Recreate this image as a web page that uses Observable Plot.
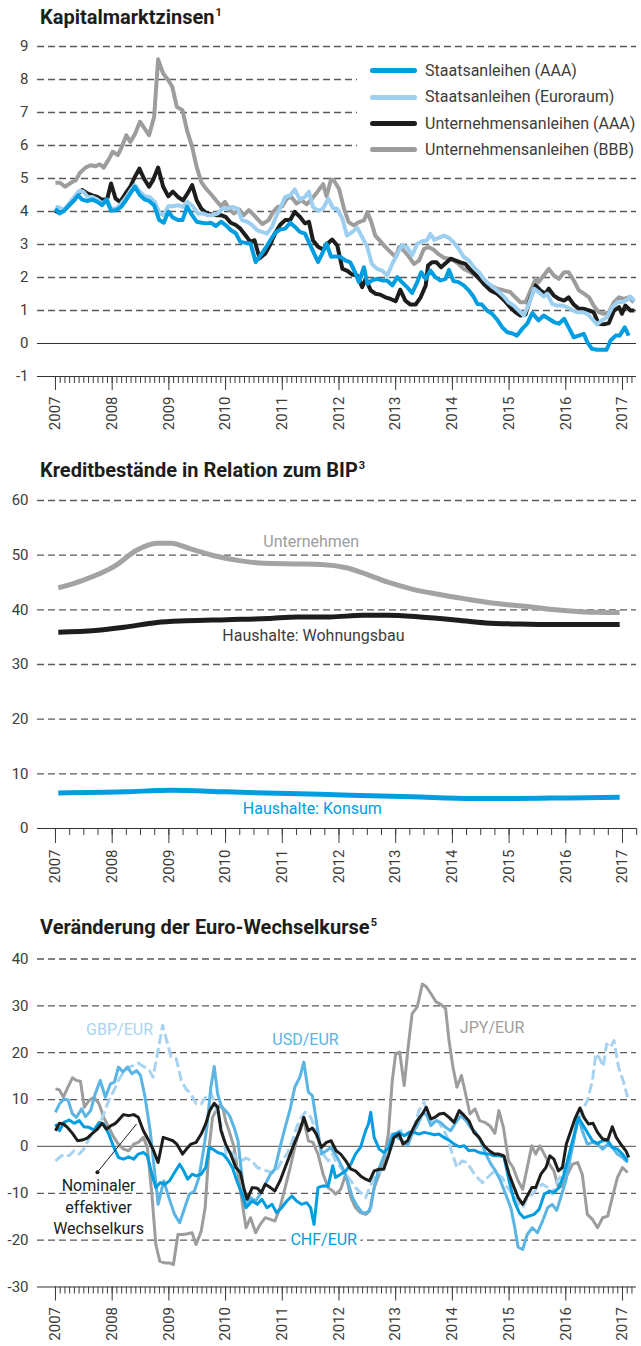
<!DOCTYPE html>
<html><head><meta charset="utf-8">
<script src="https://cdn.jsdelivr.net/npm/d3@7"></script>
<script src="https://cdn.jsdelivr.net/npm/@observablehq/plot@0.6"></script>
<style>
body{margin:0;background:#fff;}
#root{position:relative;width:641px;height:1346px;font-family:Roboto,sans-serif;color:#3c3c3b;overflow:hidden;}
.title{position:absolute;left:40px;font-weight:700;font-size:20px;line-height:1;color:#1d1d1b;white-space:nowrap;}
.title sup{font-size:11px;line-height:0;vertical-align:8px;margin-left:1px;}
.chart{position:absolute;left:0;}
</style></head>
<body>
<div id="root">
  <div class="title" style="top:7px">Kapitalmarktzinsen<sup>1</sup></div>
  <div class="chart" id="c1" style="top:36px"></div>
  <div id="legend" style="position:absolute;left:357px;top:56px;width:284px;height:112px;background:#fff"></div>
  <div class="title" style="top:460px">Kreditbestände in Relation zum BIP<sup>3</sup></div>
  <div class="chart" id="c2" style="top:490px"></div>
  <div class="title" style="top:917px">Veränderung der Euro-Wechselkurse<sup>5</sup></div>
  <div class="chart" id="c3" style="top:948px"></div>
</div>
<script>
// ---------- shared ----------
const years = [2007,2008,2009,2010,2011,2012,2013,2014,2015,2016,2017];
const xDomain = [2006.683, 2017.247];

// ---------- Chart 1: Kapitalmarktzinsen ----------
const yTicks1 = [-1,0,1,2,3,4,5,6,7,8,9];
const legendNames = ["Staatsanleihen (AAA)","Staatsanleihen (Euroraum)","Unternehmensanleihen (AAA)","Unternehmensanleihen (BBB)"];
const staatsAAA = [[2007.00,4.09],[2007.07,3.94],[2007.15,4.02],[2007.24,4.19],[2007.33,4.34],[2007.40,4.49],[2007.47,4.36],[2007.56,4.32],[2007.65,4.36],[2007.74,4.29],[2007.82,4.19],[2007.90,4.36],[2007.98,4.02],[2008.07,4.04],[2008.16,4.14],[2008.25,4.36],[2008.33,4.57],[2008.40,4.75],[2008.49,4.49],[2008.58,4.36],[2008.65,4.32],[2008.74,4.19],[2008.83,3.74],[2008.91,3.66],[2008.99,3.99],[2009.07,3.82],[2009.16,3.74],[2009.24,3.74],[2009.32,4.14],[2009.41,3.89],[2009.49,3.69],[2009.58,3.66],[2009.67,3.64],[2009.74,3.66],[2009.83,3.56],[2009.92,3.69],[2010.00,3.59],[2010.09,3.44],[2010.18,3.34],[2010.26,3.08],[2010.35,3.05],[2010.44,3.03],[2010.53,2.47],[2010.62,2.68],[2010.70,2.88],[2010.79,3.13],[2010.87,3.35],[2010.96,3.45],[2011.05,3.48],[2011.14,3.66],[2011.22,3.54],[2011.31,3.38],[2011.40,3.33],[2011.48,3.03],[2011.56,2.73],[2011.63,2.47],[2011.72,2.78],[2011.78,3.03],[2011.86,2.63],[2011.94,2.64],[2012.03,2.62],[2012.11,2.52],[2012.20,2.46],[2012.29,2.13],[2012.35,1.86],[2012.44,2.31],[2012.50,1.81],[2012.58,1.91],[2012.67,1.96],[2012.76,1.91],[2012.85,1.91],[2012.94,1.76],[2013.03,2.01],[2013.11,1.86],[2013.20,1.71],[2013.29,1.53],[2013.38,1.86],[2013.45,2.16],[2013.53,1.96],[2013.61,2.21],[2013.70,2.01],[2013.79,1.91],[2013.88,1.96],[2013.94,2.23],[2014.02,1.89],[2014.11,1.86],[2014.20,1.76],[2014.29,1.61],[2014.38,1.40],[2014.44,1.20],[2014.52,1.18],[2014.61,1.00],[2014.70,0.90],[2014.79,0.72],[2014.88,0.49],[2014.97,0.34],[2015.05,0.31],[2015.14,0.24],[2015.23,0.44],[2015.32,0.60],[2015.41,0.92],[2015.47,0.80],[2015.52,0.70],[2015.61,0.85],[2015.70,0.75],[2015.79,0.65],[2015.88,0.60],[2015.97,0.75],[2016.05,0.49],[2016.14,0.19],[2016.23,0.24],[2016.32,0.29],[2016.38,0.04],[2016.46,-0.16],[2016.55,-0.19],[2016.64,-0.19],[2016.72,-0.19],[2016.79,0.09],[2016.88,0.24],[2016.95,0.24],[2017.04,0.49],[2017.11,0.24]];
const staatsEuro = [[2007.00,4.14],[2007.07,4.12],[2007.15,4.04],[2007.24,4.24],[2007.33,4.44],[2007.42,4.63],[2007.49,4.60],[2007.57,4.44],[2007.65,4.44],[2007.74,4.36],[2007.82,4.24],[2007.91,4.36],[2007.98,4.09],[2008.07,4.09],[2008.16,4.24],[2008.25,4.44],[2008.33,4.65],[2008.40,4.80],[2008.49,4.60],[2008.58,4.46],[2008.66,4.44],[2008.75,4.29],[2008.84,3.94],[2008.91,3.89],[2008.99,4.16],[2009.07,4.16],[2009.16,4.19],[2009.25,4.14],[2009.33,4.29],[2009.42,4.16],[2009.51,3.94],[2009.60,3.94],[2009.68,3.89],[2009.77,3.89],[2009.86,3.94],[2009.95,4.09],[2010.03,4.09],[2010.12,4.14],[2010.21,4.09],[2010.29,3.74],[2010.38,3.69],[2010.47,3.59],[2010.56,3.43],[2010.64,3.38],[2010.73,3.33],[2010.82,3.54],[2010.90,3.89],[2010.96,4.09],[2011.05,4.44],[2011.14,4.49],[2011.22,4.67],[2011.31,4.36],[2011.40,4.44],[2011.47,4.60],[2011.54,4.14],[2011.63,4.02],[2011.72,4.09],[2011.81,4.39],[2011.90,4.09],[2011.97,4.08],[2012.06,3.78],[2012.14,3.27],[2012.23,3.37],[2012.32,3.51],[2012.41,3.22],[2012.50,2.92],[2012.58,2.41],[2012.67,2.26],[2012.76,2.21],[2012.85,2.06],[2012.94,2.41],[2013.03,2.72],[2013.11,2.97],[2013.20,2.92],[2013.29,2.67],[2013.38,3.02],[2013.47,3.10],[2013.55,3.12],[2013.61,3.32],[2013.68,3.14],[2013.76,3.20],[2013.85,3.27],[2013.94,3.20],[2014.02,3.07],[2014.11,2.87],[2014.20,2.62],[2014.29,2.52],[2014.38,2.31],[2014.47,2.16],[2014.55,1.96],[2014.64,1.81],[2014.73,1.69],[2014.82,1.56],[2014.91,1.42],[2014.99,1.25],[2015.08,1.15],[2015.17,1.00],[2015.26,0.85],[2015.35,1.20],[2015.44,1.66],[2015.52,1.56],[2015.61,1.42],[2015.67,1.51],[2015.76,1.20],[2015.85,1.15],[2015.94,1.15],[2016.02,1.10],[2016.11,1.02],[2016.20,0.95],[2016.29,0.95],[2016.38,0.90],[2016.46,0.75],[2016.55,0.58],[2016.64,0.70],[2016.73,0.80],[2016.82,1.10],[2016.91,1.25],[2016.99,1.25],[2017.08,1.32],[2017.14,1.42],[2017.21,1.30]];
const unternAAA = [[2007.00,4.02],[2007.07,3.96],[2007.15,4.04],[2007.24,4.19],[2007.33,4.36],[2007.40,4.55],[2007.47,4.65],[2007.56,4.55],[2007.65,4.49],[2007.74,4.44],[2007.82,4.36],[2007.91,4.36],[2007.98,4.85],[2008.06,4.39],[2008.14,4.29],[2008.23,4.53],[2008.32,4.75],[2008.40,5.05],[2008.48,5.30],[2008.56,5.00],[2008.65,4.75],[2008.72,4.95],[2008.81,5.33],[2008.90,4.75],[2008.99,4.46],[2009.07,4.60],[2009.16,4.44],[2009.25,4.34],[2009.33,4.55],[2009.41,4.80],[2009.49,4.34],[2009.57,4.09],[2009.65,3.96],[2009.74,3.92],[2009.83,3.89],[2009.92,3.89],[2010.00,3.84],[2010.09,3.66],[2010.18,3.59],[2010.26,3.48],[2010.35,3.28],[2010.44,3.08],[2010.51,3.13],[2010.60,2.58],[2010.70,2.73],[2010.79,3.01],[2010.87,3.33],[2010.96,3.59],[2011.05,3.74],[2011.14,3.74],[2011.22,3.99],[2011.31,3.84],[2011.40,3.64],[2011.47,3.69],[2011.54,3.13],[2011.63,2.93],[2011.72,2.85],[2011.80,3.03],[2011.88,3.15],[2011.97,2.97],[2012.06,2.26],[2012.14,2.21],[2012.23,2.09],[2012.32,2.06],[2012.41,1.71],[2012.47,1.96],[2012.56,1.61],[2012.64,1.51],[2012.73,1.48],[2012.82,1.40],[2012.91,1.35],[2013.00,1.28],[2013.08,1.63],[2013.17,1.30],[2013.26,1.18],[2013.35,1.18],[2013.44,1.40],[2013.53,1.76],[2013.57,2.36],[2013.64,2.46],[2013.72,2.46],[2013.80,2.31],[2013.88,2.43],[2013.97,2.57],[2014.05,2.52],[2014.14,2.46],[2014.23,2.41],[2014.32,2.23],[2014.44,2.03],[2014.55,1.81],[2014.67,1.61],[2014.79,1.51],[2014.91,1.32],[2015.02,1.10],[2015.11,0.95],[2015.20,0.85],[2015.29,0.88],[2015.38,1.40],[2015.47,1.76],[2015.55,1.61],[2015.64,1.51],[2015.70,1.66],[2015.79,1.45],[2015.88,1.35],[2015.97,1.30],[2016.05,1.40],[2016.14,1.18],[2016.23,1.05],[2016.32,1.05],[2016.41,1.00],[2016.49,0.95],[2016.58,0.60],[2016.67,0.58],[2016.76,0.62],[2016.85,1.00],[2016.94,1.10],[2016.99,0.90],[2017.05,1.15],[2017.14,1.00],[2017.21,1.00]];
const unternBBB = [[2007.00,4.87],[2007.08,4.87],[2007.17,4.75],[2007.27,4.87],[2007.36,4.95],[2007.43,5.17],[2007.53,5.33],[2007.62,5.40],[2007.71,5.37],[2007.78,5.43],[2007.85,5.33],[2007.94,5.58],[2008.01,5.81],[2008.10,5.71],[2008.17,5.96],[2008.25,6.31],[2008.32,6.11],[2008.40,6.34],[2008.49,6.72],[2008.57,6.52],[2008.65,6.31],[2008.74,6.87],[2008.81,8.61],[2008.90,8.18],[2008.99,7.98],[2009.06,7.78],[2009.14,7.17],[2009.24,7.07],[2009.32,6.46],[2009.41,5.96],[2009.49,5.35],[2009.57,4.90],[2009.65,4.70],[2009.74,4.53],[2009.83,4.34],[2009.92,4.16],[2009.99,4.29],[2010.07,4.06],[2010.15,3.94],[2010.24,4.06],[2010.32,3.89],[2010.41,4.04],[2010.50,3.89],[2010.58,3.74],[2010.65,3.62],[2010.76,3.74],[2010.84,3.99],[2010.92,4.14],[2011.00,4.16],[2011.08,4.39],[2011.16,4.44],[2011.25,4.24],[2011.34,4.34],[2011.43,4.22],[2011.51,4.36],[2011.60,4.55],[2011.72,4.83],[2011.78,4.46],[2011.86,4.97],[2011.91,4.94],[2012.00,4.69],[2012.09,4.08],[2012.17,3.68],[2012.26,3.58],[2012.35,3.68],[2012.44,3.73],[2012.50,3.98],[2012.57,3.68],[2012.64,3.27],[2012.73,3.10],[2012.82,2.92],[2012.91,2.77],[2013.00,2.62],[2013.06,2.92],[2013.14,2.82],[2013.23,2.64],[2013.32,2.41],[2013.41,2.51],[2013.50,2.87],[2013.58,2.92],[2013.67,2.84],[2013.76,2.70],[2013.85,2.60],[2013.94,2.57],[2014.02,2.52],[2014.11,2.41],[2014.20,2.26],[2014.32,2.16],[2014.44,2.01],[2014.55,1.86],[2014.67,1.76],[2014.79,1.66],[2014.91,1.61],[2015.02,1.56],[2015.11,1.40],[2015.20,1.25],[2015.29,1.25],[2015.38,1.61],[2015.47,1.96],[2015.52,1.86],[2015.61,2.06],[2015.70,2.26],[2015.79,2.06],[2015.88,1.96],[2015.97,2.16],[2016.05,2.16],[2016.14,1.91],[2016.23,1.61],[2016.32,1.51],[2016.41,1.40],[2016.49,1.15],[2016.58,0.95],[2016.67,0.90],[2016.76,0.95],[2016.85,1.25],[2016.94,1.40],[2017.02,1.35],[2017.11,1.40],[2017.20,1.25]];

// ---------- Chart 2: Kreditbestände ----------
const yTicks2 = [0,10,20,30,40,50,60];
const unternehmen = [[2007.05,44.0],[2007.48,45.4],[2008.06,48.1],[2008.43,50.9],[2008.79,52.2],[2009.04,52.2],[2009.37,51.2],[2009.80,49.9],[2010.24,49.0],[2010.68,48.5],[2011.26,48.4],[2011.69,48.3],[2012.13,47.7],[2012.49,46.5],[2012.85,45.1],[2013.29,43.8],[2013.72,42.9],[2014.23,42.0],[2014.74,41.2],[2015.32,40.6],[2015.83,40.0],[2016.34,39.6],[2016.95,39.5]];
const wohnungsbau = [[2007.05,35.9],[2007.70,36.2],[2008.21,36.8],[2008.79,37.7],[2009.30,38.0],[2010.02,38.2],[2010.75,38.4],[2011.26,38.7],[2011.84,38.7],[2012.42,39.0],[2012.85,39.0],[2013.43,38.7],[2014.01,38.2],[2014.59,37.6],[2015.17,37.4],[2015.83,37.3],[2016.95,37.3]];
const konsum = [[2007.05,6.5],[2008.21,6.7],[2009.04,7.0],[2010.02,6.7],[2011.11,6.4],[2012.20,6.1],[2013.29,5.8],[2014.38,5.5],[2015.10,5.5],[2016.05,5.6],[2016.95,5.7]];
const labels2 = [
  {x: 2011.51, y: 52.4, text: "Unternehmen", color: "#9d9d9c"},
  {x: 2011.55, y: 35.3, text: "Haushalte: Wohnungsbau", color: "#3c3c3b"},
  {x: 2011.53, y: 3.5, text: "Haushalte: Konsum", color: "#009ee0"}
];

// ---------- Chart 3: Euro-Wechselkurse ----------
const yTicks3 = [-30,-20,-10,0,10,20,30,40];
const neer = [[2007.00,3.36],[2007.07,4.93],[2007.14,4.79],[2007.21,4.07],[2007.30,2.79],[2007.39,1.21],[2007.47,1.36],[2007.56,1.79],[2007.65,2.79],[2007.74,3.71],[2007.82,4.93],[2007.90,3.71],[2007.98,4.43],[2008.06,4.93],[2008.13,5.86],[2008.20,6.79],[2008.29,6.57],[2008.38,6.79],[2008.46,6.21],[2008.55,3.36],[2008.64,1.36],[2008.72,-0.57],[2008.81,-3.43],[2008.90,1.93],[2008.99,1.57],[2009.07,1.21],[2009.14,0.50],[2009.24,-1.64],[2009.31,-0.57],[2009.39,0.50],[2009.48,0.86],[2009.57,2.64],[2009.65,4.79],[2009.72,7.64],[2009.80,9.21],[2009.86,8.36],[2009.92,3.36],[2010.00,0.50],[2010.09,-1.64],[2010.18,-4.50],[2010.26,-5.57],[2010.32,-8.79],[2010.38,-11.29],[2010.47,-8.79],[2010.56,-8.93],[2010.63,-9.86],[2010.70,-8.07],[2010.79,-8.79],[2010.87,-9.50],[2010.96,-7.36],[2011.05,-4.50],[2011.14,-1.64],[2011.22,0.86],[2011.31,3.36],[2011.38,6.21],[2011.46,3.36],[2011.53,3.93],[2011.60,2.64],[2011.69,-0.21],[2011.78,0.86],[2011.86,1.21],[2011.95,-0.93],[2012.03,-1.64],[2012.12,-3.07],[2012.21,-4.86],[2012.29,-5.21],[2012.38,-6.29],[2012.47,-7.00],[2012.54,-7.36],[2012.62,-5.21],[2012.71,-4.86],[2012.79,-4.86],[2012.88,-1.64],[2012.97,1.93],[2013.06,2.64],[2013.13,0.50],[2013.21,1.21],[2013.29,3.36],[2013.38,5.50],[2013.47,6.93],[2013.54,8.36],[2013.62,5.86],[2013.69,6.21],[2013.77,6.93],[2013.85,7.07],[2013.94,6.21],[2014.03,5.14],[2014.12,7.64],[2014.21,6.57],[2014.29,5.50],[2014.38,3.00],[2014.47,1.93],[2014.56,0.14],[2014.65,-0.93],[2014.74,-1.64],[2014.82,-1.64],[2014.91,-2.00],[2015.00,-5.93],[2015.09,-8.79],[2015.16,-10.93],[2015.24,-12.36],[2015.32,-10.57],[2015.40,-8.79],[2015.47,-8.79],[2015.56,-5.93],[2015.65,-4.50],[2015.72,-2.00],[2015.79,-2.71],[2015.87,-5.21],[2015.94,-4.50],[2016.01,0.50],[2016.09,3.36],[2016.16,5.86],[2016.25,8.21],[2016.32,6.21],[2016.40,4.79],[2016.48,4.93],[2016.56,3.00],[2016.65,1.57],[2016.74,1.36],[2016.82,4.21],[2016.89,1.93],[2016.97,0.50],[2017.06,-0.93],[2017.11,-2.36]];
const usd = [[2007.00,7.29],[2007.07,9.07],[2007.15,10.14],[2007.22,9.93],[2007.30,6.93],[2007.37,6.21],[2007.46,8.00],[2007.53,6.36],[2007.62,7.64],[2007.70,11.21],[2007.79,14.07],[2007.88,10.50],[2007.97,13.36],[2008.04,13.71],[2008.11,16.93],[2008.19,15.86],[2008.27,16.93],[2008.35,15.50],[2008.43,16.21],[2008.50,15.14],[2008.58,10.50],[2008.67,3.36],[2008.74,-4.50],[2008.81,-12.36],[2008.91,-7.36],[2009.00,-10.93],[2009.10,-14.50],[2009.19,-16.29],[2009.28,-13.07],[2009.36,-10.21],[2009.45,-9.50],[2009.53,-6.64],[2009.60,-1.64],[2009.67,4.07],[2009.74,12.64],[2009.80,17.07],[2009.86,11.21],[2009.93,8.36],[2010.00,7.64],[2010.07,6.57],[2010.15,4.07],[2010.22,1.21],[2010.29,-6.64],[2010.36,-13.07],[2010.44,-10.93],[2010.53,-11.64],[2010.61,-10.21],[2010.70,-8.07],[2010.79,-5.93],[2010.87,-4.86],[2010.96,-0.21],[2011.05,4.07],[2011.14,8.00],[2011.22,12.64],[2011.31,14.79],[2011.38,18.00],[2011.46,11.57],[2011.53,10.86],[2011.60,5.50],[2011.69,-1.64],[2011.78,-0.93],[2011.86,-0.21],[2011.97,-2.36],[2012.06,-4.50],[2012.15,-7.36],[2012.24,-10.93],[2012.32,-12.71],[2012.41,-14.14],[2012.50,-14.14],[2012.56,-13.07],[2012.62,-8.79],[2012.69,-5.21],[2012.76,-3.07],[2012.85,-0.21],[2012.94,2.64],[2013.03,1.93],[2013.12,1.21],[2013.21,0.14],[2013.29,2.64],[2013.38,4.43],[2013.47,6.93],[2013.54,6.93],[2013.62,4.43],[2013.71,5.50],[2013.79,5.14],[2013.88,4.07],[2013.97,3.36],[2014.06,5.14],[2014.15,6.57],[2014.24,5.50],[2014.32,4.07],[2014.41,3.00],[2014.50,1.21],[2014.59,-1.64],[2014.68,-3.79],[2014.76,-5.21],[2014.85,-7.36],[2014.94,-10.21],[2015.03,-13.07],[2015.09,-16.64],[2015.16,-21.50],[2015.24,-22.00],[2015.32,-18.79],[2015.41,-17.36],[2015.50,-18.43],[2015.59,-15.93],[2015.68,-13.07],[2015.76,-12.36],[2015.84,-13.64],[2015.91,-10.93],[2016.00,-7.36],[2016.07,-3.07],[2016.15,1.93],[2016.22,6.21],[2016.29,3.36],[2016.38,0.50],[2016.47,0.86],[2016.56,0.50],[2016.65,-0.57],[2016.74,0.50],[2016.82,-0.21],[2016.91,-1.64],[2017.00,-2.36],[2017.09,-3.43]];
const chf = [[2007.00,4.79],[2007.07,3.36],[2007.15,5.14],[2007.24,5.64],[2007.33,4.93],[2007.42,5.50],[2007.50,4.21],[2007.59,4.07],[2007.68,3.50],[2007.77,5.14],[2007.85,4.79],[2007.94,2.64],[2008.03,-0.21],[2008.11,-2.36],[2008.20,-2.71],[2008.29,-2.21],[2008.38,-2.71],[2008.46,-1.64],[2008.55,-1.29],[2008.62,-2.00],[2008.70,-5.93],[2008.77,-8.79],[2008.85,-7.71],[2008.93,-8.07],[2009.01,-7.36],[2009.10,-5.57],[2009.19,-3.79],[2009.26,-5.21],[2009.33,-7.00],[2009.41,-5.93],[2009.48,-6.29],[2009.57,-5.93],[2009.65,-4.50],[2009.71,-0.21],[2009.77,-0.57],[2009.86,-1.29],[2009.95,-1.64],[2010.03,-2.71],[2010.12,-4.50],[2010.20,-7.36],[2010.29,-10.21],[2010.36,-13.07],[2010.47,-11.64],[2010.56,-12.36],[2010.64,-11.29],[2010.73,-13.07],[2010.82,-12.36],[2010.90,-14.14],[2010.99,-13.07],[2011.08,-11.64],[2011.17,-10.57],[2011.25,-11.64],[2011.34,-12.36],[2011.43,-12.00],[2011.50,-13.07],[2011.56,-16.64],[2011.63,-8.79],[2011.72,-8.43],[2011.81,-8.43],[2011.89,-4.14],[2011.94,-6.64],[2012.03,-5.93],[2012.12,-5.21],[2012.21,-3.79],[2012.29,-1.64],[2012.38,-0.21],[2012.47,3.36],[2012.52,4.79],[2012.56,7.29],[2012.62,1.93],[2012.71,-0.57],[2012.79,-1.29],[2012.88,-0.21],[2012.97,2.64],[2013.06,3.00],[2013.15,2.29],[2013.24,3.00],[2013.32,3.00],[2013.41,2.64],[2013.50,3.00],[2013.59,2.79],[2013.68,2.50],[2013.76,2.64],[2013.85,1.93],[2013.94,1.36],[2014.03,0.50],[2014.12,-0.07],[2014.21,0.14],[2014.29,-0.93],[2014.38,-0.79],[2014.47,-1.29],[2014.56,-1.50],[2014.65,-1.64],[2014.74,-2.00],[2014.82,-2.00],[2014.91,-2.21],[2015.00,-7.36],[2015.09,-11.64],[2015.18,-14.14],[2015.26,-15.21],[2015.35,-14.86],[2015.44,-14.50],[2015.53,-13.43],[2015.62,-10.21],[2015.71,-9.50],[2015.79,-9.86],[2015.88,-8.79],[2015.97,-5.93],[2016.06,-1.64],[2016.15,2.64],[2016.22,6.21],[2016.29,4.79],[2016.38,3.00],[2016.47,1.21],[2016.56,0.64],[2016.65,1.21],[2016.74,1.21],[2016.82,-0.21],[2016.91,-0.57],[2017.00,-1.64],[2017.09,-3.07]];
const jpy = [[2007.00,12.29],[2007.07,12.07],[2007.14,10.50],[2007.22,12.64],[2007.30,14.64],[2007.37,14.07],[2007.44,13.93],[2007.51,8.36],[2007.59,9.79],[2007.68,10.50],[2007.77,9.07],[2007.85,6.21],[2007.94,4.07],[2008.03,1.93],[2008.11,0.50],[2008.20,-0.57],[2008.29,-0.93],[2008.38,0.50],[2008.46,0.86],[2008.55,1.93],[2008.62,-0.21],[2008.70,-10.21],[2008.77,-20.93],[2008.84,-24.50],[2008.93,-24.86],[2009.01,-24.86],[2009.08,-25.21],[2009.16,-18.79],[2009.25,-18.79],[2009.33,-18.64],[2009.41,-18.43],[2009.48,-20.93],[2009.57,-18.07],[2009.64,-13.07],[2009.71,-0.21],[2009.77,6.21],[2009.83,7.64],[2009.89,8.71],[2009.95,8.36],[2010.00,5.50],[2010.07,3.00],[2010.15,-0.21],[2010.22,-5.93],[2010.29,-11.64],[2010.36,-17.36],[2010.44,-15.21],[2010.53,-18.43],[2010.61,-16.64],[2010.70,-15.21],[2010.79,-15.57],[2010.87,-15.93],[2010.96,-13.07],[2011.05,-8.79],[2011.14,-4.50],[2011.22,-0.21],[2011.31,4.07],[2011.38,5.50],[2011.46,1.21],[2011.54,0.86],[2011.63,-1.64],[2011.72,-5.93],[2011.81,-8.79],[2011.89,-9.50],[2011.94,-10.21],[2012.03,-9.14],[2012.12,-5.93],[2012.21,-10.93],[2012.29,-13.07],[2012.38,-14.14],[2012.47,-14.50],[2012.54,-13.79],[2012.62,-8.79],[2012.71,-5.93],[2012.79,-3.07],[2012.87,2.64],[2012.94,14.07],[2013.00,19.79],[2013.07,20.14],[2013.15,13.00],[2013.22,21.21],[2013.29,28.36],[2013.38,29.79],[2013.47,34.64],[2013.54,34.07],[2013.62,32.64],[2013.71,30.86],[2013.79,30.36],[2013.88,29.43],[2013.94,22.64],[2014.01,16.93],[2014.08,12.64],[2014.16,15.14],[2014.22,11.93],[2014.31,6.93],[2014.40,8.00],[2014.48,5.50],[2014.57,5.14],[2014.66,4.43],[2014.75,2.79],[2014.82,7.64],[2014.90,4.07],[2014.99,-3.07],[2015.07,-4.50],[2015.16,-7.36],[2015.24,-9.14],[2015.32,-4.50],[2015.40,0.14],[2015.47,-1.64],[2015.54,0.14],[2015.62,-1.64],[2015.71,-3.79],[2015.79,-5.21],[2015.87,-8.79],[2015.94,-8.43],[2016.03,-5.93],[2016.12,-3.79],[2016.21,-3.43],[2016.29,-5.93],[2016.38,-14.50],[2016.47,-15.57],[2016.56,-17.36],[2016.65,-15.21],[2016.74,-14.86],[2016.82,-10.93],[2016.91,-6.64],[2017.00,-4.50],[2017.09,-5.57]];
const gbp = [[2007.00,-3.07],[2007.07,-2.36],[2007.15,-1.64],[2007.24,-2.00],[2007.33,-0.93],[2007.42,-1.64],[2007.50,-0.57],[2007.59,1.57],[2007.68,3.36],[2007.77,4.43],[2007.85,6.93],[2007.94,9.79],[2008.03,11.93],[2008.11,14.07],[2008.20,15.86],[2008.29,16.93],[2008.38,17.29],[2008.46,17.79],[2008.55,17.07],[2008.64,16.57],[2008.72,14.79],[2008.81,20.50],[2008.89,25.86],[2008.96,22.64],[2009.04,19.07],[2009.13,18.71],[2009.22,14.07],[2009.30,12.29],[2009.39,11.21],[2009.48,9.07],[2009.57,9.07],[2009.65,10.50],[2009.74,11.50],[2009.80,9.50],[2009.86,6.93],[2009.93,4.07],[2010.01,-1.64],[2010.11,-1.29],[2010.19,-2.36],[2010.28,-3.07],[2010.36,-2.50],[2010.46,-3.07],[2010.56,-4.50],[2010.64,-4.86],[2010.73,-5.21],[2010.82,-5.57],[2010.90,-5.21],[2010.99,-3.07],[2011.08,-1.64],[2011.17,0.86],[2011.25,4.07],[2011.34,6.21],[2011.40,7.29],[2011.47,6.93],[2011.54,5.14],[2011.63,1.21],[2011.72,-1.64],[2011.81,-3.07],[2011.89,-1.64],[2011.94,-3.07],[2012.03,-4.50],[2012.12,-5.93],[2012.21,-7.36],[2012.29,-8.79],[2012.38,-9.86],[2012.47,-10.93],[2012.54,-8.79],[2012.62,-6.64],[2012.71,-5.57],[2012.79,-4.50],[2012.88,-1.64],[2012.97,1.21],[2013.06,3.36],[2013.15,3.36],[2013.24,1.93],[2013.32,4.07],[2013.41,7.64],[2013.50,9.43],[2013.58,6.21],[2013.65,5.14],[2013.74,5.50],[2013.82,4.07],[2013.91,1.93],[2014.00,-1.64],[2014.08,-4.50],[2014.17,-3.07],[2014.26,-3.43],[2014.35,-5.21],[2014.44,-6.64],[2014.53,-7.71],[2014.62,-6.64],[2014.71,-5.57],[2014.79,-5.93],[2014.88,-6.64],[2014.97,-8.79],[2015.06,-10.21],[2015.15,-12.00],[2015.24,-13.07],[2015.32,-10.93],[2015.41,-10.21],[2015.50,-8.79],[2015.59,-8.07],[2015.68,-8.79],[2015.76,-10.21],[2015.85,-7.36],[2015.94,-5.93],[2016.03,-3.07],[2016.12,0.50],[2016.21,5.14],[2016.29,7.64],[2016.38,9.79],[2016.47,14.07],[2016.53,19.79],[2016.60,18.71],[2016.66,17.07],[2016.72,21.86],[2016.79,21.14],[2016.85,22.60],[2016.93,16.93],[2017.01,14.07],[2017.09,10.50]];
const labels3 = [
  {x: 2008.13, y: 24.9, text: "GBP/EUR", color: "#a7d3f1"},
  {x: 2011.41, y: 22.75, text: "USD/EUR", color: "#5ab4e4"},
  {x: 2014.70, y: 25.3, text: "JPY/EUR", color: "#9d9d9c"}
];
const chfLabel = [{x: 2011.73, y: -20, text: "CHF/EUR"}];
const neerLabel = [{x: 2007.76, y: -12.6, text: "Nominaler\neffektiver\nWechselkurs"}];
const neerLeader = [{x1: 2007.74, y1: -5.5, x2: 2008.43, y2: 4.8}];

// ---------- colours ----------
const C = {blue: "#009ee0", light: "#9dd0f0", black: "#1d1d1b", grey: "#9d9d9c", usd: "#5ab4e4", gbp: "#a7d3f1"};
const gridColor = "#5a5a5a";
const textColor = "#3c3c3b";

const monthTicks = d3.range(0, 123).map(i => 2007 + i / 12);
const quarterTicks = d3.range(0, 42).map(i => 2007 + i / 4);

function xAxes(minor, minorSize, majorSize) {
  return [
    Plot.axisX(minor, {tickSize: minorSize, tickFormat: () => "", stroke: textColor}),
    Plot.axisX(years, {tickSize: majorSize, tickPadding: 6, tickRotate: -90, tickFormat: d => String(d), fontSize: 15, stroke: textColor, fill: textColor})
  ];
}
function yAxis(ticks) {
  return Plot.axisY(ticks, {anchor: "left", tickSize: 0, tickPadding: 9, tickFormat: d => String(d), fontSize: 15, fill: textColor});
}
const P = (d, c, w, extra = {}) => Plot.line(d, {x: p => p[0], y: p => p[1], stroke: c, strokeWidth: w, strokeLinejoin: "round", strokeLinecap: "butt", ...extra});
const baseStyle = {fontFamily: "Roboto, sans-serif", fontSize: "15px", color: textColor, overflow: "visible", background: "transparent"};

// Chart 1
const c1 = Plot.plot({
  width: 641, height: 400, marginTop: 10, marginBottom: 60, marginLeft: 37, marginRight: 5,
  x: {domain: xDomain, label: null}, y: {domain: [-1, 9], label: null},
  style: baseStyle,
  marks: [
    Plot.ruleY(yTicks1.filter(d => d > 0), {stroke: gridColor, strokeWidth: 1.3, strokeDasharray: "7,4"}),
    Plot.ruleY([0, -1], {stroke: "#333", strokeWidth: 1.2}),
    yAxis(yTicks1),
    ...xAxes(monthTicks, 7, 14),
    P(unternBBB, C.grey, 4),
    P(unternAAA, C.black, 4),
    P(staatsEuro, C.light, 4),
    P(staatsAAA, C.blue, 4)
  ]
});
document.getElementById("c1").appendChild(c1);

// legend
const legendColors = [C.blue, C.light, C.black, C.grey];
const lg = document.getElementById("legend");
legendNames.forEach((name, i) => {
  const cy = 14.7 + i * 26.4;
  const sw = document.createElement("div");
  sw.style.cssText = `position:absolute;left:13px;top:${cy - 2.5}px;width:47px;height:5px;border-radius:2.5px;background:${legendColors[i]}`;
  const tx = document.createElement("div");
  tx.style.cssText = `position:absolute;left:68px;top:${cy - 10}px;line-height:20px;font-size:16px;color:${textColor};white-space:nowrap`;
  tx.textContent = name;
  lg.appendChild(sw); lg.appendChild(tx);
});

// Chart 2
const c2 = Plot.plot({
  width: 641, height: 398, marginTop: 10, marginBottom: 60, marginLeft: 37, marginRight: 5,
  x: {domain: xDomain, label: null}, y: {domain: [0, 60], label: null},
  style: baseStyle,
  marks: [
    Plot.ruleY(yTicks2.filter(d => d > 0), {stroke: gridColor, strokeWidth: 1.3, strokeDasharray: "7,4"}),
    Plot.ruleY([0], {stroke: "#333", strokeWidth: 1.2}),
    yAxis(yTicks2),
    ...xAxes(quarterTicks, 7, 15),
    P(unternehmen, "#a3a3a2", 5, {curve: "monotone-x"}),
    P(wohnungsbau, C.black, 5, {curve: "monotone-x"}),
    P(konsum, C.blue, 5, {curve: "monotone-x"}),
    Plot.text(labels2, {x: "x", y: "y", text: "text", fill: d => d.color, fontSize: 16})
  ]
});
document.getElementById("c2").appendChild(c2);

// Chart 3
const c3 = Plot.plot({
  width: 641, height: 398, marginTop: 10.5, marginBottom: 59.5, marginLeft: 37, marginRight: 5,
  x: {domain: xDomain, label: null}, y: {domain: [-30, 40], label: null},
  style: baseStyle,
  marks: [
    Plot.ruleY(yTicks3.filter(d => d !== 0 && d !== -30), {stroke: gridColor, strokeWidth: 1.3, strokeDasharray: "7,4"}),
    Plot.ruleY([0], {stroke: "#6f6f6e", strokeWidth: 1.3}),
    Plot.ruleY([-30], {stroke: "#333", strokeWidth: 1.2}),
    yAxis(yTicks3),
    ...xAxes(monthTicks, 7, 14),
    P(jpy, C.grey, 3),
    P(gbp, C.gbp, 3, {strokeDasharray: "10,4"}),
    P(usd, C.usd, 3),
    P(chf, C.blue, 3),
    P(neer, C.black, 3),
    Plot.link(neerLeader, {x1: "x1", y1: "y1", x2: "x2", y2: "y2", stroke: C.black, strokeWidth: 1}),
    Plot.dot(neerLeader, {x: "x1", y: "y1", r: 2, fill: C.black}),
    Plot.text(labels3, {x: "x", y: "y", text: "text", fill: d => d.color, fontSize: 16}),
    Plot.text(chfLabel, {x: "x", y: "y", text: "text", fill: C.blue, stroke: "white", strokeWidth: 10, fontSize: 16}),
    Plot.text(neerLabel, {x: "x", y: "y", text: "text", fill: C.black, fontSize: 16, lineHeight: 1.375})
  ]
});
document.getElementById("c3").appendChild(c3);
</script>
</body></html>
